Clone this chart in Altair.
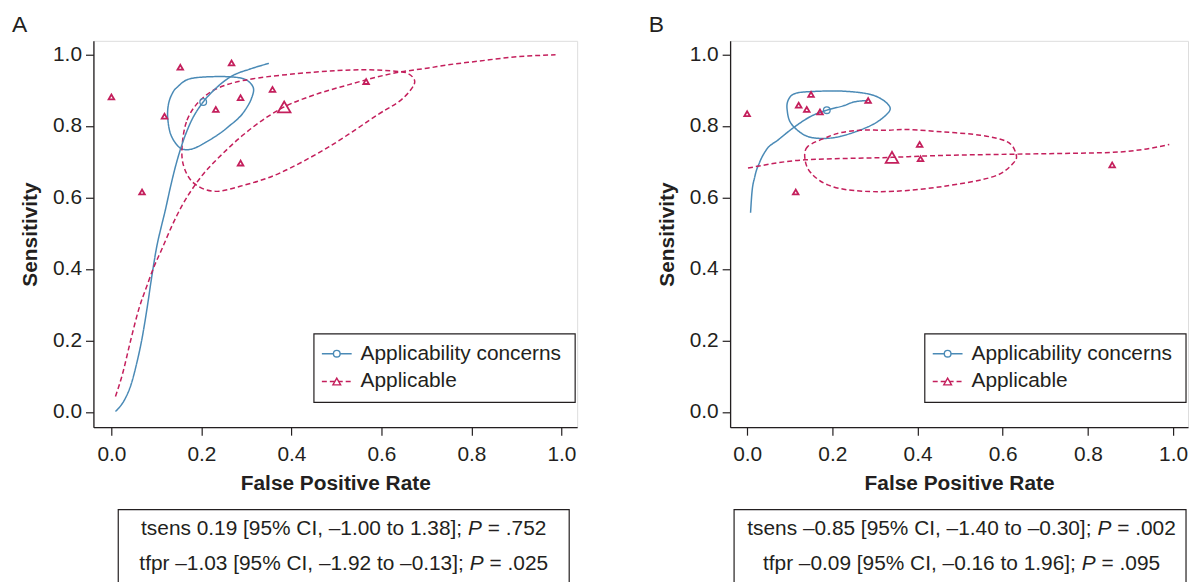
import altair as alt
import pandas as pd

FONT = "Liberation Sans"
INK = "#231f20"
BLUE = "#4a8ab6"
PINK = "#c41f5c"
SERIES = ["Applicability concerns", "Applicable"]
TICKS = [0.0, 0.2, 0.4, 0.6, 0.8, 1.0]

# ---------------- Panel A ----------------
A_CONC_CURVE_FPR = [0.009, 0.031, 0.042, 0.057, 0.068, 0.079, 0.090, 0.101, 0.111, 0.119, 0.131, 0.141, 0.153, 0.175, 0.204, 0.227, 0.267, 0.308, 0.350]
A_CONC_CURVE_SENS = [0.001, 0.038, 0.070, 0.140, 0.205, 0.288, 0.381, 0.464, 0.519, 0.560, 0.628, 0.680, 0.733, 0.807, 0.867, 0.899, 0.939, 0.959, 0.975]
A_CONC_REGION_FPR = [0.146, 0.175, 0.241, 0.293, 0.315, 0.311, 0.297, 0.282, 0.264, 0.241, 0.212, 0.183, 0.161, 0.146, 0.131, 0.125, 0.127, 0.135]
A_CONC_REGION_SENS = [0.908, 0.932, 0.938, 0.932, 0.908, 0.876, 0.844, 0.821, 0.802, 0.779, 0.756, 0.737, 0.734, 0.746, 0.779, 0.825, 0.862, 0.890]
A_APPL_CURVE_FPR = [0.009, 0.024, 0.042, 0.061, 0.079, 0.094, 0.112, 0.134, 0.156, 0.186, 0.256, 0.315, 0.384, 0.447, 0.521, 0.638, 0.705, 0.749, 0.815, 0.888, 0.987]
A_APPL_CURVE_SENS = [0.043, 0.103, 0.196, 0.288, 0.353, 0.404, 0.455, 0.519, 0.575, 0.635, 0.733, 0.797, 0.853, 0.885, 0.913, 0.950, 0.962, 0.971, 0.981, 0.992, 0.999]
A_APPL_REGION_FPR = [0.157, 0.168, 0.197, 0.241, 0.315, 0.447, 0.557, 0.631, 0.660, 0.674, 0.664, 0.638, 0.594, 0.484, 0.374, 0.286, 0.227, 0.183, 0.161]
A_APPL_REGION_SENS = [0.742, 0.816, 0.871, 0.908, 0.932, 0.950, 0.957, 0.953, 0.946, 0.925, 0.899, 0.867, 0.833, 0.742, 0.668, 0.631, 0.617, 0.640, 0.686]
A_STUDY_FPR = [0.000, 0.068, 0.118, 0.153, 0.267, 0.232, 0.287, 0.287, 0.358, 0.566]
A_STUDY_SENS = [0.881, 0.615, 0.827, 0.964, 0.976, 0.846, 0.879, 0.696, 0.902, 0.924]
A_SUMMARY_FPR = [0.204, 0.384]
A_SUMMARY_SENS = [0.867, 0.853]
A_STATS = [("tsens 0.19 [95% CI, \u20131.00 to 1.38];", "= .752"),
           ("tfpr \u20131.03 [95% CI, \u20131.92 to \u20130.13];", "= .025")]

# ---------------- Panel B ----------------
B_CONC_CURVE_FPR = [0.008, 0.011, 0.018, 0.030, 0.045, 0.072, 0.111, 0.150, 0.187, 0.228, 0.251, 0.284]
B_CONC_CURVE_SENS = [0.557, 0.610, 0.658, 0.700, 0.733, 0.760, 0.797, 0.827, 0.844, 0.857, 0.867, 0.871]
B_CONC_REGION_FPR = [0.096, 0.111, 0.150, 0.228, 0.298, 0.335, 0.321, 0.283, 0.220, 0.173, 0.135, 0.103, 0.094]
B_CONC_REGION_SENS = [0.871, 0.890, 0.896, 0.897, 0.885, 0.853, 0.825, 0.797, 0.771, 0.765, 0.774, 0.807, 0.844]
B_APPL_CURVE_FPR = [0.002, 0.135, 0.340, 0.423, 0.633, 0.742, 0.859, 0.929, 0.991]
B_APPL_CURVE_SENS = [0.682, 0.705, 0.712, 0.716, 0.721, 0.723, 0.726, 0.734, 0.748]
B_APPL_REGION_FPR = [0.189, 0.142, 0.136, 0.150, 0.189, 0.251, 0.345, 0.462, 0.578, 0.625, 0.631, 0.610, 0.547, 0.462, 0.376, 0.329, 0.267, 0.220]
B_APPL_REGION_SENS = [0.769, 0.742, 0.705, 0.668, 0.635, 0.619, 0.617, 0.631, 0.658, 0.696, 0.723, 0.756, 0.774, 0.783, 0.790, 0.788, 0.788, 0.781]
B_STUDY_FPR = [0.000, 0.150, 0.121, 0.140, 0.171, 0.284, 0.405, 0.407, 0.114, 0.857]
B_STUDY_SENS = [0.834, 0.888, 0.858, 0.846, 0.839, 0.871, 0.748, 0.708, 0.615, 0.691]
B_SUMMARY_FPR = [0.187, 0.340]
B_SUMMARY_SENS = [0.844, 0.712]
B_STATS = [("tsens \u20130.85 [95% CI, \u20131.40 to \u20130.30];", "= .002"),
           ("tfpr \u20130.09 [95% CI, \u20130.16 to 1.96];", "= .095")]

X_DOMAIN = [-0.04, 1.035]
Y_DOMAIN = [-0.043, 1.038]
FS = 21
H = 389
DUMMY = pd.DataFrame({"_": [0]})

# Arial / Liberation Sans advance widths (em) for centring the mixed-style stats lines
CW = {c: 0.556 for c in "0123456789"}
CW.update({".": 0.278, ",": 0.278, ";": 0.278, "[": 0.278, "]": 0.278, "%": 0.889,
           " ": 0.278, "C": 0.722, "I": 0.278, "t": 0.278, "s": 0.5, "e": 0.556,
           "n": 0.556, "f": 0.278, "p": 0.556, "r": 0.333, "o": 0.556,
           "\u2013": 0.556, "=": 0.584, "P": 0.667})


def tw(s, fs=FS):
    return sum(CW.get(c, 0.556) for c in s) * fs


xs = alt.Scale(domain=X_DOMAIN, nice=False, zero=False)
ys = alt.Scale(domain=Y_DOMAIN, nice=False, zero=False)
common_axis = dict(values=TICKS, format=".1f", grid=False, labelFlush=False, labelOverlap=False,
                   tickSize=8, tickWidth=1.2, tickColor=INK, domainColor=INK, domainWidth=1.3,
                   labelFont=FONT, labelFontSize=FS, labelColor=INK,
                   titleFont=FONT, titleFontSize=FS, titleFontWeight="bold", titleColor=INK)
xaxis = alt.Axis(title="False Positive Rate", labelPadding=9, titlePadding=8, **common_axis)
yaxis = alt.Axis(title="Sensitivity", labelPadding=4, titlePadding=12, **common_axis)
X = alt.X("fpr:Q", scale=xs, axis=xaxis)
Y = alt.Y("sens:Q", scale=ys, axis=yaxis)
COLOR = alt.Color("series:N", scale=alt.Scale(domain=SERIES, range=[BLUE, PINK]), legend=None)
DASH = alt.StrokeDash("series:N", scale=alt.Scale(domain=SERIES, range=[[1, 0], [5, 3]]), legend=None)


def path_frame(parts):
    frames = []
    for fpr, sens, series, path in parts:
        frames.append(pd.DataFrame({"fpr": fpr, "sens": sens, "series": series,
                                    "path": path, "idx": list(range(len(fpr)))}))
    return pd.concat(frames, ignore_index=True)


def txt(s, x, y, align="left", baseline="alphabetic", size=FS, **kw):
    return alt.Chart(DUMMY).mark_text(text=s, align=align, baseline=baseline, font=FONT,
                                      fontSize=size, color=INK, **kw).encode(
        x=alt.value(x), y=alt.value(y))


def panel(letter, W, conc_curve, conc_region, appl_curve, appl_region, study, summ, stats, box):
    curves = path_frame([(conc_curve[0], conc_curve[1], SERIES[0], "c"),
                         (appl_curve[0], appl_curve[1], SERIES[1], "a")])
    regions = path_frame([(conc_region[0], conc_region[1], SERIES[0], "c"),
                          (appl_region[0], appl_region[1], SERIES[1], "a")])
    curve_layer = alt.Chart(curves).mark_line(strokeWidth=1.5, interpolate="monotone").encode(
        x=X, y=Y, color=COLOR, strokeDash=DASH, detail="path:N", order="idx:Q")
    region_layer = alt.Chart(regions).mark_line(strokeWidth=1.5, interpolate="cardinal-closed").encode(
        x=X, y=Y, color=COLOR, strokeDash=DASH, detail="path:N", order="idx:Q")
    study_df = pd.DataFrame({"fpr": study[0], "sens": study[1]})
    study_layer = alt.Chart(study_df).mark_point(shape="triangle-up", filled=False, size=32,
                                                 strokeWidth=1.8, color=PINK, opacity=1).encode(x=X, y=Y)
    conc_sum = alt.Chart(pd.DataFrame({"fpr": summ[0][:1], "sens": summ[1][:1]})).mark_point(
        shape="circle", filled=False, size=45, strokeWidth=1.3, color=BLUE, opacity=1).encode(x=X, y=Y)
    appl_sum = alt.Chart(pd.DataFrame({"fpr": summ[0][1:], "sens": summ[1][1:]})).mark_point(
        shape="triangle-up", filled=False, size=160, strokeWidth=1.8, color=PINK, opacity=1).encode(x=X, y=Y)

    # legend (drawn in pixel space, Stata style: line with marker)
    xr = W - 2
    xl = xr - 263
    rows = [315, 343]
    leg = [alt.Chart(DUMMY).mark_rect(fill="white", stroke=INK, strokeWidth=1.2).encode(
        x=alt.value(xl), x2=alt.value(xr), y=alt.value(295), y2=alt.value(364))]
    styles = [(BLUE, [1, 0], "circle", 45), (PINK, [5, 3], "triangle-up", 60)]
    for (col, dsh, shp, sz), r, name in zip(styles, rows, SERIES):
        leg.append(alt.Chart(DUMMY).mark_rule(color=col, strokeWidth=1.5, strokeDash=dsh).encode(
            x=alt.value(xl + 8), x2=alt.value(xl + 38), y=alt.value(r)))
        leg.append(alt.Chart(DUMMY).mark_point(shape=shp, filled=True, fill="white", stroke=col,
                                               strokeWidth=1.4, size=sz, opacity=1).encode(
            x=alt.value(xl + 23), y=alt.value(r)))
        leg.append(txt(name, xl + 47, r, baseline="middle"))

    # statistics box below the plot
    bx0, bx1, by0, center = box
    stat_layers = [alt.Chart(DUMMY).mark_rect(fillOpacity=0, stroke=INK, strokeWidth=1.2).encode(
        x=alt.value(bx0), x2=alt.value(bx1), y=alt.value(by0), y2=alt.value(by0 + 100))]
    for (prefix, suffix), base in zip(stats, [by0 + 26, by0 + 61]):
        total = tw(prefix + " ") + tw("P") + tw(" " + suffix)
        x0 = center - total / 2
        xp = x0 + tw(prefix + " ")
        stat_layers.append(txt(prefix, x0, base))
        stat_layers.append(txt("P", xp, base, fontStyle="italic"))
        stat_layers.append(txt(suffix, xp + tw("P "), base))

    letter_layer = txt(letter, -82, -9, size=23)
    return alt.layer(region_layer, curve_layer, study_layer, conc_sum, appl_sum,
                     *leg, *stat_layers, letter_layer).properties(width=W, height=H)


left = panel("A", 487,
             (A_CONC_CURVE_FPR, A_CONC_CURVE_SENS), (A_CONC_REGION_FPR, A_CONC_REGION_SENS),
             (A_APPL_CURVE_FPR, A_APPL_CURVE_SENS), (A_APPL_REGION_FPR, A_APPL_REGION_SENS),
             (A_STUDY_FPR, A_STUDY_SENS), (A_SUMMARY_FPR, A_SUMMARY_SENS), A_STATS,
             (25, 479, 472, 252))
right = panel("B", 461,
              (B_CONC_CURVE_FPR, B_CONC_CURVE_SENS), (B_CONC_REGION_FPR, B_CONC_REGION_SENS),
              (B_APPL_CURVE_FPR, B_APPL_CURVE_SENS), (B_APPL_REGION_FPR, B_APPL_REGION_SENS),
              (B_STUDY_FPR, B_STUDY_SENS), (B_SUMMARY_FPR, B_SUMMARY_SENS), B_STATS,
              (4, 459, 472, 233))

chart = alt.hconcat(left, right, spacing=70).properties(
    padding={"left": 3, "top": 3, "right": 0, "bottom": 0}
).configure_view(stroke=None).configure(background="white")

chart.save("out.html", embed_options={"renderer": "svg", "actions": False})
